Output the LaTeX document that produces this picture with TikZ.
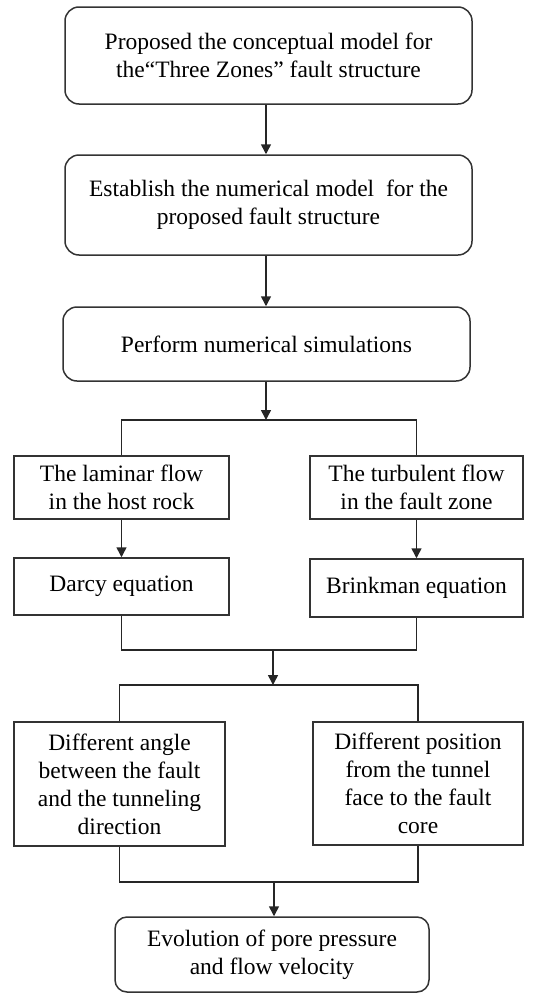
\documentclass[tikz,border=0pt]{standalone}
\usepackage{fontspec}
\setmainfont{Liberation Serif}
\usetikzlibrary{arrows.meta}
\begin{document}
\begin{tikzpicture}[x=1pt,y=-1pt,
  every node/.style={font=\fontsize{23.5}{28}\selectfont, align=center, inner sep=0pt, line width=1.5pt, draw=black!80},
  rbox/.style={rectangle, rounded corners=14pt},
  sbox/.style={rectangle},
  conn/.style={line width=1.5pt, draw=black!85},
  arr/.style={conn, -{Triangle[length=10pt,width=10pt]}}
]
\useasboundingbox (0,0) rectangle (540,993);
\node[rbox, minimum width=407pt, minimum height=97pt] (b1) at (268.5,55.5) {Proposed the conceptual model for\\the\char"201CThree Zones\char"201D\ fault structure};
\node[rbox, minimum width=407pt, minimum height=100pt] (b2) at (268.5,205) {Establish the numerical model \ for the\\proposed fault structure};
\node[rbox, minimum width=407pt, minimum height=74pt] (b3) at (266.5,344) {Perform numerical simulations};
\node[sbox, minimum width=215pt, minimum height=63pt] (b4) at (121.5,487.5) {The laminar flow\\in the host rock};
\node[sbox, minimum width=213pt, minimum height=63pt] (b5) at (416.5,487.5) {The turbulent flow\\in the fault zone};
\node[sbox, minimum width=215pt, minimum height=57pt] (b6) at (121.5,586.5) {Darcy equation};
\node[sbox, minimum width=213pt, minimum height=58pt] (b7) at (416.5,588) {Brinkman equation};
\node[sbox, minimum width=211pt, minimum height=124pt] (b8) at (119.5,784) {Different angle\\between the fault\\and the tunneling\\direction};
\node[sbox, minimum width=210pt, minimum height=123pt] (b9) at (418,783.5) {Different position\\from the tunnel\\face to the fault\\core};
\node[rbox, rounded corners=12pt, minimum width=314pt, minimum height=75pt] (b10) at (272,954.5) {Evolution of pore pressure\\and flow velocity};

\coordinate (j1) at (266,420);
\coordinate (j2) at (273,650);
\coordinate (j3) at (273,685);
\coordinate (j4) at (274,882);

\draw[arr] (b1.south -| 266,0) -- (b2.north -| 266,0);
\draw[arr] (b2.south -| 266,0) -- (b3.north -| 266,0);
\draw[arr] (b3.south -| j1) -- (j1);
\draw[conn] (b4.north) |- (j1) -| (b5.north);
\draw[arr] (b4) -- (b6);
\draw[arr] (b5) -- (b7);
\draw[conn] (b6.south) |- (j2) -| (b7.south);
\draw[arr] (j2) -- (j3);
\draw[conn] (b8.north) |- (j3) -| (b9.north);
\draw[conn] (b8.south) |- (j4) -| (b9.south);
\draw[arr] (j4) -- (j4 |- b10.north);
\end{tikzpicture}
\end{document}
